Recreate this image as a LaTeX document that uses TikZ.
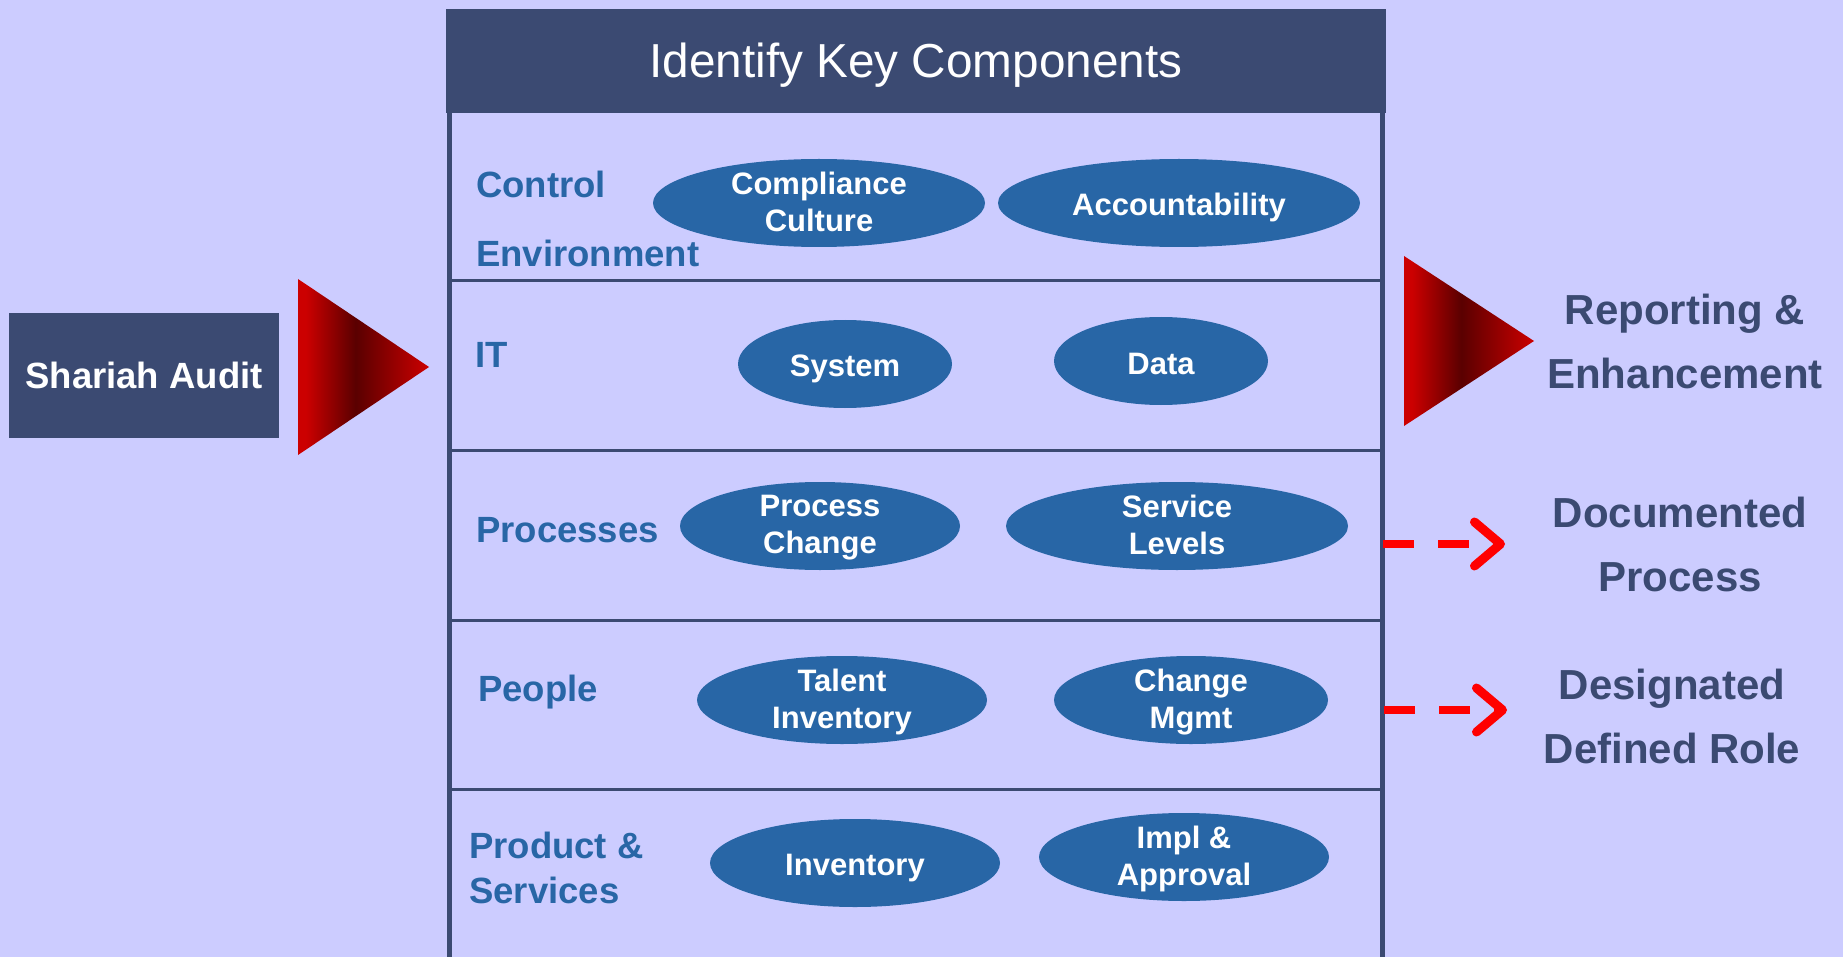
\documentclass[tikz,border=0pt]{standalone}
\usepackage{fontspec}
\setmainfont{Liberation Sans}
\usetikzlibrary{arrows.meta}

\definecolor{bgcol}{RGB}{204,204,255}
\definecolor{navy}{RGB}{59,74,114}
\definecolor{ellblue}{RGB}{40,102,166}
\definecolor{tred}{RGB}{204,0,0}
\definecolor{tdark}{RGB}{90,0,0}

\pgfdeclarehorizontalshading{redtri}{100bp}{color(0bp)=(tred); color(28bp)=(tred);
  color(47bp)=(tdark); color(75bp)=(tred); color(100bp)=(tred)}

\newcommand{\estrut}{\rule[-6pt]{0pt}{34pt}}

\tikzset{
  headbox/.style={fill=navy, text=white, inner sep=0pt, minimum width=940pt, minimum height=104pt,
    text height=44pt, text depth=10pt, font=\fontsize{47.7}{55}\selectfont},
  auditbox/.style={fill=navy, text=white, inner sep=0pt, minimum width=270pt, minimum height=125pt,
    text height=34pt, text depth=8pt, font=\fontsize{36.5}{44}\selectfont\bfseries},
  rowlbl/.style={text=ellblue, inner sep=0pt, anchor=base west, align=left,
    font=\fontsize{36.5}{69}\selectfont\bfseries},
  elltext/.style={text=white, inner sep=0pt, align=center, yshift=-2pt,
    execute at begin node=\estrut, execute at end node=\estrut,
    font=\fontsize{31}{37}\selectfont\bfseries},
  outlbl/.style={text=navy, inner sep=0pt, anchor=base, align=center,
    font=\fontsize{42}{63.5}\selectfont\bfseries},
  boxline/.style={navy, line width=5pt},
  rowline/.style={navy, line width=3pt},
  dasharrow/.style={red, line width=8pt, dash pattern=on 31pt off 24pt,
    -{Straight Barb[length=26pt, width=44pt, line width=9pt, round]}}
}

\begin{document}
\begin{tikzpicture}[x=1pt, y=-1pt]
    % Background
    \useasboundingbox (0,0) rectangle (1843,957);
    \fill[bgcol] (0,0) rectangle (1843,957);

    % Shariah Audit box and the two red triangles
    \node[auditbox] (audit) at (144,375.5) {Shariah Audit};
    \shade[shading=redtri] (298,279) -- (298,455) -- (429,367) -- cycle;
    \shade[shading=redtri] (1404,256) -- (1404,426) -- (1534,341) -- cycle;

    % Main frame
    \coordinate (bodyTL) at (449,110);
    \coordinate (bodyBL) at (449,960);
    \coordinate (bodyTR) at (1382,110);
    \coordinate (bodyBR) at (1382,960);
    \draw[boxline] (bodyTL) -- (bodyBL);
    \draw[boxline] (bodyTR) -- (bodyBR);
    \foreach \y in {281,450,620,789}
        \draw[rowline] (449,\y) -- (1385,\y);
    \node[headbox] (head) at (916,61) {Identify Key Components};

    % Row labels (base = last line)
    \node[rowlbl] (ctrl) at (476,267) {Control\\Environment};
    \node[rowlbl] (it) at (475,367) {IT};
    \node[rowlbl] (proc) at (476,542) {Processes};
    \node[rowlbl] (ppl) at (478,701) {People};
    \node[rowlbl, font=\fontsize{36.5}{45}\selectfont\bfseries] (prod) at (469,903) {Product \&\\Services};

    % Components
    \foreach \nm/\cx/\cy/\rx/\txt in {
        cc/819/203/166/{Compliance\\Culture},
        acc/1179/203/181/{Accountability},
        sys/845/364/107/{System},
        dat/1161/361/107/{Data},
        pc/820/526/140/{Process\\Change},
        sl/1177/526/171/{Service\\Levels},
        ti/842/700/145/{Talent\\Inventory},
        cm/1191/700/137/{Change\\Mgmt},
        inv/855/863/145/{Inventory},
        ia/1184/857/145/{Impl \&\\Approval}}
    {
        \fill[ellblue] (\cx,\cy) ellipse ({\rx} and 44);
        \node[elltext] (\nm) at (\cx,\cy) {\txt};
    }

    % Outcomes
    \node[outlbl] (rep) at (1685,388) {Reporting \&\\Enhancement};
    \node[outlbl] (doc) at (1680,591) {Documented\\Process};
    \node[outlbl] (role) at (1672,763) {Designated\\Defined Role};

    % Dashed arrows
    \coordinate (procout) at (1383,544);
    \coordinate (proctip) at (1505,544);
    \coordinate (pplout) at (1384,710);
    \coordinate (ppltip) at (1507,710);
    \draw[dasharrow] (procout) -- (proctip);
    \draw[dasharrow] (pplout) -- (ppltip);
\end{tikzpicture}
\end{document}
